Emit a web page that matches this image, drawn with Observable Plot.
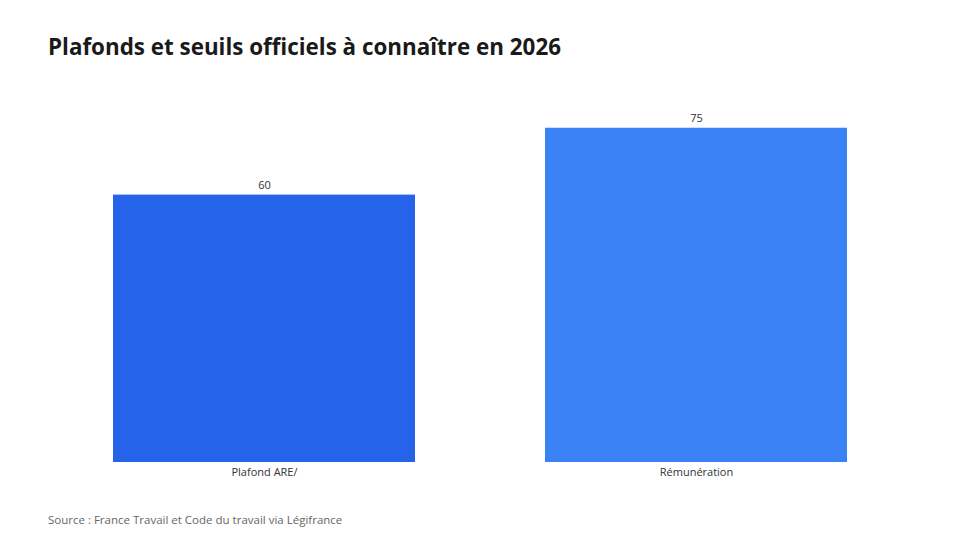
<!DOCTYPE html>
<html lang="fr">
<head>
<meta charset="utf-8">
<script src="https://cdn.jsdelivr.net/npm/d3@7"></script>
<script src="https://cdn.jsdelivr.net/npm/@observablehq/plot@0.6"></script>
<style>
  html, body { margin: 0; padding: 0; background: #fff; }
  body { width: 960px; height: 540px; overflow: hidden; font-family: "Open Sans", "Noto Sans", sans-serif; }
  #title { height: 80px; box-sizing: border-box; padding: 32px 0 0 48px; font-size: 22.4px; font-weight: 700; color: #1a1a1a; line-height: 30px; }
  #chart svg { display: block; }
  #caption { padding: 12px 0 0 48px; font-size: 11.5px; color: #666; }
</style>
</head>
<body>
<div id="title">Plafonds et seuils officiels à connaître en 2026</div>
<div id="chart"></div>
<div id="caption">Source : France Travail et Code du travail via Légifrance</div>
<script>
// Catégories et valeurs affichées
const categories = ["Plafond ARE/", "Rémunération"];
const values = [60, 75];
const colors = ["#2563EB", "#3B82F6"];

const data = categories.map((c, i) => ({ category: c, value: values[i], color: colors[i] }));

const chart = Plot.plot({
  width: 960,
  height: 420,
  marginTop: 21,
  marginBottom: 38,
  marginLeft: 48,
  marginRight: 48,
  style: { fontFamily: "'Open Sans', 'Noto Sans', sans-serif", fontSize: "11px", color: "#333", background: "#fff" },
  x: { domain: categories, padding: 0.3, paddingOuter: 0.15, label: null, tickSize: 0, tickPadding: 6 },
  y: { domain: [0, d3.max(values) * 1.08], axis: null },
  marks: [
    Plot.barY(data, { x: "category", y: "value", fill: "color" }),
    Plot.text(data, { x: "category", y: "value", text: d => String(d.value), dy: -10, fill: "#333", fontSize: 11 })
  ]
});
document.getElementById("chart").append(chart);
</script>
</body>
</html>
